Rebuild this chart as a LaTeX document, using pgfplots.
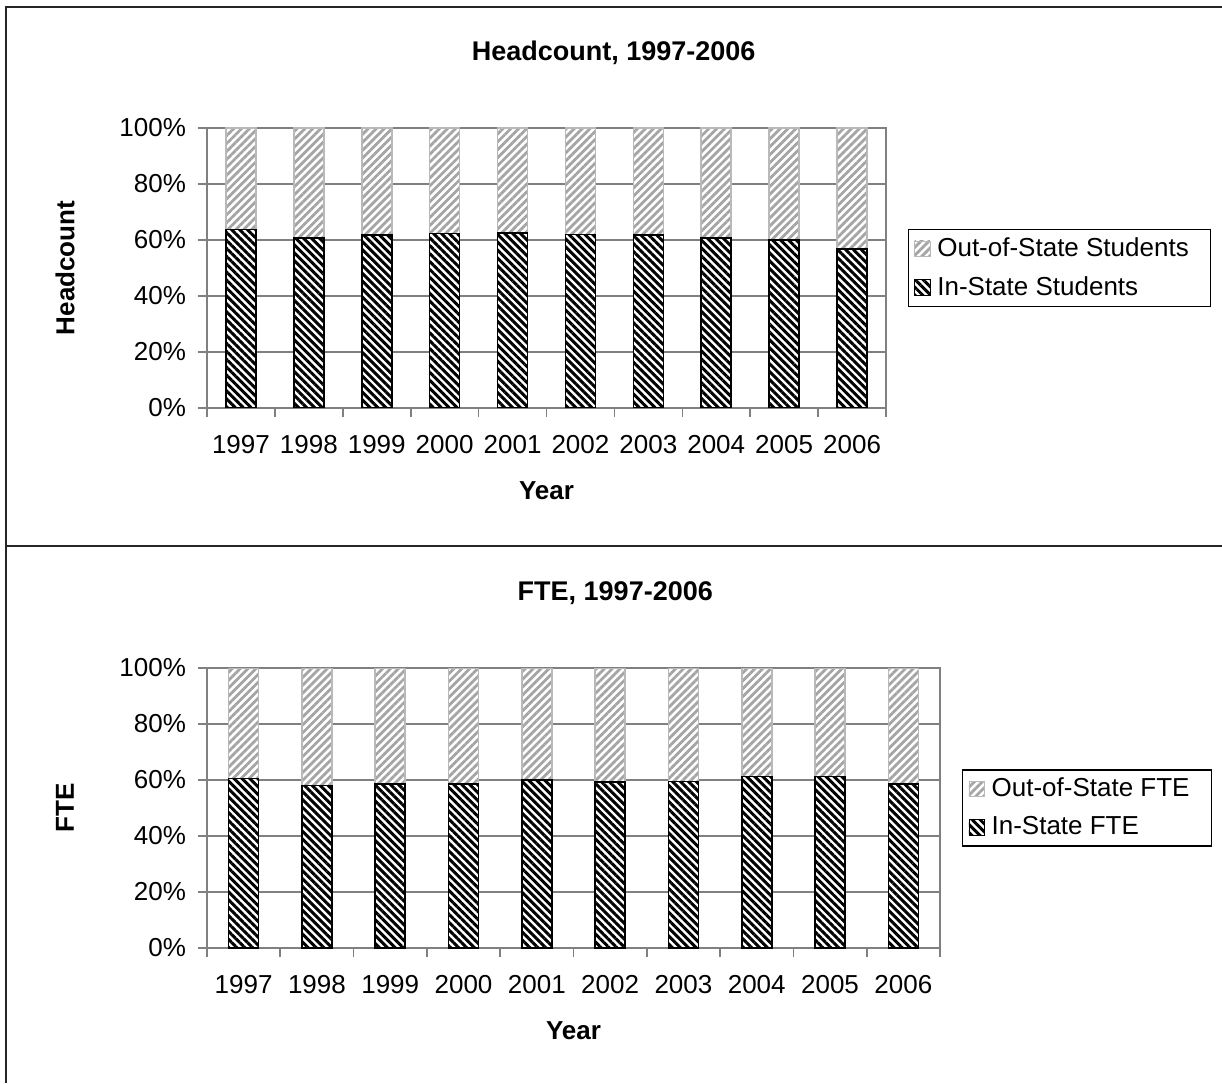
\documentclass[border=0pt]{standalone}
\usepackage{fontspec}
\setmainfont{Liberation Sans}
\usepackage{pgfplots}
\pgfplotsset{compat=1.18}
\usetikzlibrary{patterns.meta}
\definecolor{axisgray}{RGB}{128,128,128}
\definecolor{outgray}{RGB}{165,165,165}
\definecolor{outline}{RGB}{185,185,185}

% in-state share (%)
\pgfplotstableread{
x  instate
0.5 63.8
1.5 60.8
2.5 61.8
3.5 62.3
4.5 62.6
5.5 62.0
6.5 61.8
7.5 60.7
8.5 60.0
9.5 56.8
}\headcount
\pgfplotstableread{
x  outstate
0.5 36.2
1.5 39.2
2.5 38.2
3.5 37.7
4.5 37.4
5.5 38.0
6.5 38.2
7.5 39.3
8.5 40.0
9.5 43.2
}\headcountout
\pgfplotstableread{
x  instate
0.5 60.6
1.5 58.1
2.5 58.6
3.5 58.5
4.5 60.0
5.5 59.2
6.5 59.4
7.5 61.2
8.5 61.2
9.5 58.5
}\fte
\pgfplotstableread{
x  outstate
0.5 39.4
1.5 41.9
2.5 41.4
3.5 41.5
4.5 40.0
5.5 40.8
6.5 40.6
7.5 38.8
8.5 38.8
9.5 41.5
}\fteout

\pgfplotsset{
  share/.style={
    scale only axis, height=140pt,
    ybar stacked, bar width=15pt,
    xmin=0, xmax=10, ymin=0, ymax=100,
    font=\fontsize{13}{15.6}\selectfont,
    /pgf/number format/assume math mode=true,
    xtick={0,1,...,10}, xticklabels={},
    extra x ticks={0.5,1.5,...,9.5},
    extra x tick labels={1997,1998,1999,2000,2001,2002,2003,2004,2005,2006},
    extra x tick style={major tick length=0pt, grid=none,
      xticklabel style={yshift=-10pt}},
    ytick={0,20,...,100},
    yticklabel={\pgfmathprintnumber{\tick}\%},
    yticklabel style={xshift=-2.5pt},
    tick pos=left, tick align=outside, major tick length=4.5pt,
    tick style={draw=axisgray, line width=0.8pt},
    axis line style={draw=axisgray, line width=0.8pt},
    ymajorgrids, grid style={draw=axisgray, line width=0.8pt},
    title style={anchor=center, yshift=31.5pt, font=\fontsize{13.5}{16}\selectfont\bfseries},
    xlabel style={at={(0.5,0)}, anchor=center, yshift=-41.5pt, font=\fontsize{13}{15.6}\selectfont\bfseries},
    ylabel style={at={(0,0.5)}, anchor=center, yshift=71pt, font=\fontsize{13}{15.6}\selectfont\bfseries},
    xlabel={Year},
    reverse legend,
    legend style={anchor=west, draw=black, line width=0.6pt,
      font=\fontsize{13}{15.6}\selectfont, inner xsep=3pt, inner ysep=2pt,
      row sep=4.5pt, cells={anchor=west},
      /tikz/every odd column/.append style={column sep=1.5pt}},
    legend image code/.code={
      \draw[#1, line width=0.4pt] (0pt,-3.8pt) rectangle (7.6pt,3.8pt);},
  },
  instyle/.style={fill=white, draw=black, line width=0.8pt,
    postaction={pattern={Lines[angle=-45,distance=2.8pt,line width=1.5pt]}, pattern color=black}},
  outstyle/.style={fill=white, draw=outline, line width=0.8pt,
    postaction={pattern={Lines[angle=45,distance=2.8pt,line width=1.4pt]}, pattern color=outgray}},
}

\begin{document}
\begin{tikzpicture}
\path[use as bounding box] (0pt,0pt) rectangle (611pt,541.5pt);
\draw[line width=1pt, black!85] (3pt,0pt) -- (3pt,538pt) -- (611pt,538pt);
\draw[line width=1pt, black!85] (3pt,268.5pt) -- (611pt,268.5pt);

\begin{axis}[share, width=339.5pt,
  at={(103.5pt,337.5pt)}, anchor=south west,
  title={Headcount, 1997-2006}, ylabel={Headcount},
  title style={at={(0.599,1)}},
  legend style={at={(1.032,0.5)}}]
\addplot[instyle] table[x=x, y=instate] {\headcount};
\addlegendentry{In-State Students\hspace*{6pt}}
\addplot[outstyle] table[x=x, y=outstate] {\headcountout};
\addlegendentry{Out-of-State Students\hspace*{6pt}}
\end{axis}

\begin{axis}[share, width=366.5pt,
  at={(103.5pt,67.5pt)}, anchor=south west,
  title={FTE, 1997-2006}, ylabel={FTE},
  title style={at={(0.557,1)}},
  legend style={at={(1.030,0.5)}}]
\addplot[instyle] table[x=x, y=instate] {\fte};
\addlegendentry{In-State FTE\hspace*{6pt}}
\addplot[outstyle] table[x=x, y=outstate] {\fteout};
\addlegendentry{Out-of-State FTE\hspace*{6pt}}
\end{axis}
\end{tikzpicture}
\end{document}
